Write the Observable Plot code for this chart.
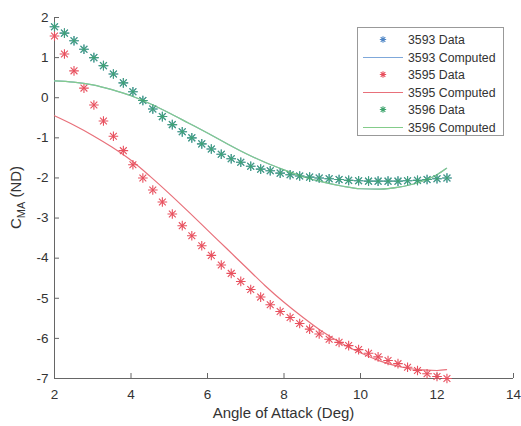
<!DOCTYPE html>
<html><head><meta charset="utf-8">
<script src="https://cdn.jsdelivr.net/npm/d3@7"></script>
<script src="https://cdn.jsdelivr.net/npm/@observablehq/plot@0.6"></script>
<style>
body{margin:0;background:#fff;}
#chart{position:relative;width:521px;height:426px;}
</style>
</head><body><div id="chart"></div>
<script>
// ---- data ----
const angles = [2.00, 2.26, 2.51, 2.77, 3.03, 3.28, 3.54, 3.80, 4.05, 4.31, 4.57, 4.82, 5.08, 5.34, 5.59, 5.85, 6.10, 6.36, 6.62, 6.87, 7.13, 7.39, 7.64, 7.90, 8.16, 8.41, 8.67, 8.92, 9.18, 9.44, 9.69, 9.95, 10.21, 10.46, 10.72, 10.98, 11.23, 11.49, 11.74, 12.00, 12.26];
const data3593 = [1.77, 1.61, 1.42, 1.21, 1.00, 0.80, 0.59, 0.37, 0.15, -0.07, -0.28, -0.47, -0.67, -0.85, -1.00, -1.15, -1.28, -1.41, -1.52, -1.61, -1.71, -1.78, -1.82, -1.88, -1.92, -1.95, -1.98, -2.00, -2.02, -2.04, -2.06, -2.07, -2.08, -2.08, -2.08, -2.08, -2.07, -2.06, -2.04, -2.02, -2.00];
const data3595 = [1.54, 1.09, 0.67, 0.24, -0.18, -0.58, -0.96, -1.32, -1.67, -2.00, -2.30, -2.60, -2.90, -3.19, -3.44, -3.69, -3.93, -4.17, -4.38, -4.58, -4.78, -4.97, -5.16, -5.33, -5.48, -5.63, -5.77, -5.89, -6.02, -6.10, -6.18, -6.28, -6.37, -6.46, -6.55, -6.63, -6.72, -6.80, -6.88, -6.95, -7.00];
const data3596 = [1.77, 1.61, 1.42, 1.21, 1.00, 0.80, 0.59, 0.37, 0.15, -0.07, -0.28, -0.47, -0.67, -0.85, -1.00, -1.15, -1.28, -1.41, -1.52, -1.61, -1.71, -1.78, -1.82, -1.88, -1.92, -1.95, -1.98, -2.00, -2.02, -2.04, -2.06, -2.07, -2.08, -2.08, -2.08, -2.08, -2.07, -2.06, -2.04, -2.02, -2.00];

const compAngles = [2.0, 2.5, 3.0, 3.5, 4.0, 4.5, 5.0, 5.5, 6.0, 6.5, 7.0, 7.5, 8.0, 8.5, 9.0, 9.5, 10.0, 10.5, 11.0, 11.5, 12.0, 12.25];
const comp3593 = [0.42, 0.39, 0.32, 0.20, 0.05, -0.15, -0.38, -0.63, -0.88, -1.14, -1.39, -1.61, -1.80, -1.97, -2.10, -2.20, -2.27, -2.28, -2.23, -2.12, -1.92, -1.76];
const comp3595 = [-0.45, -0.68, -0.94, -1.23, -1.56, -1.96, -2.39, -2.84, -3.30, -3.76, -4.22, -4.68, -5.10, -5.48, -5.83, -6.12, -6.36, -6.56, -6.70, -6.78, -6.80, -6.78];
const comp3596 = [0.42, 0.39, 0.32, 0.20, 0.05, -0.15, -0.38, -0.63, -0.88, -1.14, -1.39, -1.61, -1.80, -1.97, -2.10, -2.20, -2.27, -2.28, -2.23, -2.12, -1.92, -1.76];

const seriesNames = ["3593", "3595", "3596"];
const seriesColors = ["#4f86c6", "#e8505e", "#3fa56e"];
const lineColors = ["#7fa8da", "#e8707a", "#84cc8a"];
const xTicks = [2, 4, 6, 8, 10, 12, 14];
const yTicks = [-7, -6, -5, -4, -3, -2, -1, 0, 1, 2];
const xLabel = "Angle of Attack (Deg)";
const legendLabels = ["3593 Data", "3593 Computed", "3595 Data", "3595 Computed", "3596 Data", "3596 Computed"];

// ---- tables ----
const measured = [data3593, data3595, data3596];
const computed = [comp3593, comp3595, comp3596];
const pts = [], lines = [];
seriesNames.forEach((s, k) => {
  angles.forEach((a, i) => pts.push({series: s, angle: a, cma: measured[k][i]}));
  compAngles.forEach((a, i) => lines.push({series: s, angle: a, cma: computed[k][i]}));
});

const W = 521, H = 426, mL = 54, mR = 8, mT = 17, mB = 48;
const innerW = W - mL - mR, innerH = H - mT - mB;
const font = "'Liberation Sans', Arial, Helvetica, sans-serif";
const lineColor = d3.scaleOrdinal(seriesNames, lineColors);

const marks = [
  Plot.ruleY([yTicks[0]], {stroke: "#666", strokeWidth: 1}),
  Plot.ruleX([xTicks[0]], {stroke: "#666", strokeWidth: 1}),
  Plot.tickX(xTicks, {x: d => d, insetTop: innerH - 5, stroke: "#666"}),
  Plot.tickY(yTicks, {y: d => d, insetRight: innerW - 5, stroke: "#666"}),
];
seriesNames.forEach(s => {
  const p = pts.filter(d => d.series === s);
  const l = lines.filter(d => d.series === s);
  const op = s === "3596" ? 0.85 : 1;
  marks.push(
    Plot.line(l, {x: "angle", y: "cma", stroke: d => lineColor(d.series), strokeWidth: 1.2, curve: "monotone-x"}),
    Plot.dot(p, {x: "angle", y: "cma", stroke: "series", symbol: "plus", r: 3.2, strokeWidth: 1.1, strokeOpacity: op}),
    Plot.dot(p, {x: "angle", y: "cma", stroke: "series", symbol: "times", r: 3.2, strokeWidth: 1.1, strokeOpacity: op})
  );
});

const chart = Plot.plot({
  width: W, height: H,
  marginLeft: mL, marginRight: mR, marginTop: mT, marginBottom: mB,
  style: {fontFamily: font, fontSize: "13.5px", color: "#333", background: "#fff"},
  x: {domain: [2, 14], ticks: xTicks, tickSize: 0, tickPadding: 11, label: null, tickFormat: d => String(d)},
  y: {domain: [-7, 2], ticks: yTicks, tickSize: 0, tickPadding: 6, label: null, tickFormat: d => String(d)},
  color: {domain: seriesNames, range: seriesColors},
  marks
});
document.getElementById("chart").appendChild(chart);

// ---- axis labels & legend ----
const svg = d3.select(chart);
svg.append("text")
  .attr("x", mL + innerW / 2).attr("y", 418)
  .attr("text-anchor", "middle")
  .style("font-family", font).style("font-size", "15px").attr("fill", "#333")
  .text(xLabel);

const yl = svg.append("text")
  .attr("transform", `translate(21,${mT + innerH / 2}) rotate(-90)`)
  .attr("text-anchor", "middle")
  .style("font-family", font).style("font-size", "15px").attr("fill", "#333");
yl.append("tspan").text("C");
yl.append("tspan").attr("dy", 4).style("font-size", "11px").text("MA");
yl.append("tspan").attr("dy", -4).text(" (ND)");

const lg = svg.append("g");
lg.append("rect").attr("x", 357.5).attr("y", 27.5).attr("width", 146).attr("height", 108)
  .attr("fill", "#fff").attr("stroke", "#999");
legendLabels.forEach((t, i) => {
  const cy = Math.round(39 + i * 17.5) + 0.5;
  const k = Math.floor(i / 2);
  if (i % 2 === 0) {
    const sym = lg.append("g").attr("transform", `translate(383,${cy})`)
      .attr("stroke", seriesColors[k]).attr("stroke-width", 1.1);
    sym.append("path").attr("d", "M-3.2,0H3.2M0,-3.2V3.2M-2.3,-2.3L2.3,2.3M-2.3,2.3L2.3,-2.3");
  } else {
    lg.append("path").attr("d", `M363,${cy}H403`)
      .attr("fill", "none").attr("stroke", lineColors[k]).attr("stroke-width", 1.2);
  }
  lg.append("text").attr("x", 408).attr("y", cy).attr("dy", "0.35em")
    .attr("text-anchor", "start")
    .style("font-family", font).style("font-size", "12.3px").attr("fill", "#333").text(t);
});
</script>
</body></html>
